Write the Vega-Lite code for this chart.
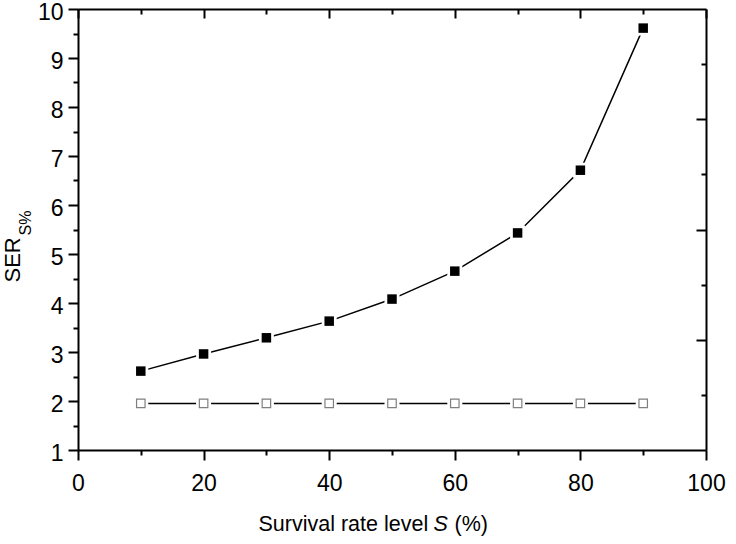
{
  "$schema": "https://vega.github.io/schema/vega-lite/v6.json",
  "width": 628,
  "height": 441,
  "autosize": {"type": "none"},
  "padding": {"left": 78, "top": 9, "right": 30, "bottom": 94},
  "background": "white",
  "config": {
    "view": {"stroke": null},
    "axis": {
      "grid": false,
      "labelFont": "Liberation Sans",
      "titleFont": "Liberation Sans",
      "domainColor": "black",
      "tickColor": "black",
      "labelColor": "black",
      "titleColor": "black",
      "domainWidth": 2,
      "tickWidth": 2,
      "labelFontSize": 23,
      "labelFlush": false,
      "titleFontWeight": "normal"
    }
  },
  "data": {
    "values": [
      {"S": 10, "v": 2.61, "series": "filled"},
      {"S": 20, "v": 2.96, "series": "filled"},
      {"S": 30, "v": 3.29, "series": "filled"},
      {"S": 40, "v": 3.63, "series": "filled"},
      {"S": 50, "v": 4.08, "series": "filled"},
      {"S": 60, "v": 4.65, "series": "filled"},
      {"S": 70, "v": 5.43, "series": "filled"},
      {"S": 80, "v": 6.71, "series": "filled"},
      {"S": 90, "v": 9.61, "series": "filled"},
      {"S": 10, "v": 1.95, "series": "open"},
      {"S": 20, "v": 1.95, "series": "open"},
      {"S": 30, "v": 1.95, "series": "open"},
      {"S": 40, "v": 1.95, "series": "open"},
      {"S": 50, "v": 1.95, "series": "open"},
      {"S": 60, "v": 1.95, "series": "open"},
      {"S": 70, "v": 1.95, "series": "open"},
      {"S": 80, "v": 1.95, "series": "open"},
      {"S": 90, "v": 1.95, "series": "open"}
    ]
  },
  "resolve": {
    "scale": {"x": "independent", "y": "independent"},
    "axis": {"x": "independent", "y": "independent"}
  },
  "layer": [
    {
      "transform": [{"filter": "datum.series === 'filled'"}],
      "mark": {"type": "line", "color": "black", "strokeWidth": 1.5},
      "encoding": {
        "x": {
          "field": "S", "type": "quantitative",
          "scale": {"domain": [0, 100], "nice": false, "zero": false},
          "axis": {
            "orient": "bottom", "values": [0, 20, 40, 60, 80, 100],
            "tickSize": 10, "labelPadding": 12,
            "title": "Survival rate level", "titleFontSize": 21.5,
            "titleAlign": "left", "titleBaseline": "alphabetic",
            "titleX": 180, "titleY": 80
          }
        },
        "y": {
          "field": "v", "type": "quantitative",
          "scale": {"domain": [1, 10], "nice": false, "zero": false},
          "axis": {
            "orient": "left", "values": [1, 2, 3, 4, 5, 6, 7, 8, 9, 10],
            "tickSize": 10, "labelPadding": 5, "labelOffset": 3,
            "title": "SER", "titleFontSize": 22, "titleAngle": -90,
            "titleAlign": "left", "titleBaseline": "alphabetic",
            "titleX": -59, "titleY": 273
          }
        }
      }
    },
    {
      "transform": [{"filter": "datum.series === 'open'"}],
      "mark": {"type": "line", "color": "black", "strokeWidth": 1.5},
      "encoding": {
        "x": {
          "field": "S", "type": "quantitative",
          "scale": {"domain": [0, 100], "nice": false, "zero": false},
          "axis": {
            "orient": "bottom", "values": [10, 30, 50, 70, 90],
            "tickSize": 5, "labels": false, "domain": false,
            "title": "S", "titleFontSize": 21.5, "titleFontStyle": "italic",
            "titleAlign": "left", "titleBaseline": "alphabetic",
            "titleX": 355, "titleY": 80
          }
        },
        "y": {
          "field": "v", "type": "quantitative",
          "scale": {"domain": [1, 10], "nice": false, "zero": false},
          "axis": {
            "orient": "left", "values": [1.5, 2.5, 3.5, 4.5, 5.5, 6.5, 7.5, 8.5, 9.5],
            "tickSize": 5, "labels": false, "domain": false,
            "title": "S%", "titleFontSize": 16, "titleAngle": -90,
            "titleAlign": "left", "titleBaseline": "alphabetic",
            "titleX": -48, "titleY": 226
          }
        }
      }
    },
    {
      "mark": {"type": "square", "filled": true, "color": "white", "opacity": 1, "size": 225},
      "encoding": {
        "x": {
          "field": "S", "type": "quantitative",
          "scale": {"domain": [0, 100], "nice": false, "zero": false},
          "axis": {
            "orient": "top", "values": [0, 20, 40, 60, 80, 100],
            "tickSize": -9, "labels": false, "title": null
          }
        },
        "y": {
          "field": "v", "type": "quantitative",
          "scale": {"domain": [1, 10], "nice": false, "zero": false},
          "axis": {
            "orient": "right", "values": [3.25, 5.5, 7.75],
            "tickSize": -10, "labels": false, "title": null
          }
        }
      }
    },
    {
      "transform": [{"filter": "datum.series === 'filled'"}],
      "mark": {"type": "square", "filled": true, "color": "black", "opacity": 1, "size": 90},
      "encoding": {
        "x": {
          "field": "S", "type": "quantitative",
          "scale": {"domain": [0, 100], "nice": false, "zero": false},
          "axis": {
            "orient": "top", "values": [10, 30, 50, 70, 90],
            "tickSize": -5, "labels": false, "domain": false, "title": null
          }
        },
        "y": {
          "field": "v", "type": "quantitative",
          "scale": {"domain": [1, 10], "nice": false, "zero": false},
          "axis": {
            "orient": "right", "values": [2.125, 4.375, 6.625, 8.875],
            "tickSize": -5, "labels": false, "domain": false, "title": null
          }
        }
      }
    },
    {
      "transform": [{"filter": "datum.series === 'open'"}],
      "mark": {"type": "square", "filled": false, "fill": "white", "stroke": "#808080", "strokeWidth": 1.2, "opacity": 1, "size": 72},
      "encoding": {
        "x": {
          "field": "S", "type": "quantitative",
          "scale": {"domain": [0, 100], "nice": false, "zero": false},
          "axis": {
            "orient": "bottom", "values": [], "ticks": false, "labels": false, "domain": false,
            "title": "(%)", "titleFontSize": 21.5,
            "titleAlign": "left", "titleBaseline": "alphabetic",
            "titleX": 376, "titleY": 80
          }
        },
        "y": {
          "field": "v", "type": "quantitative",
          "scale": {"domain": [1, 10], "nice": false, "zero": false},
          "axis": null
        }
      }
    }
  ]
}
